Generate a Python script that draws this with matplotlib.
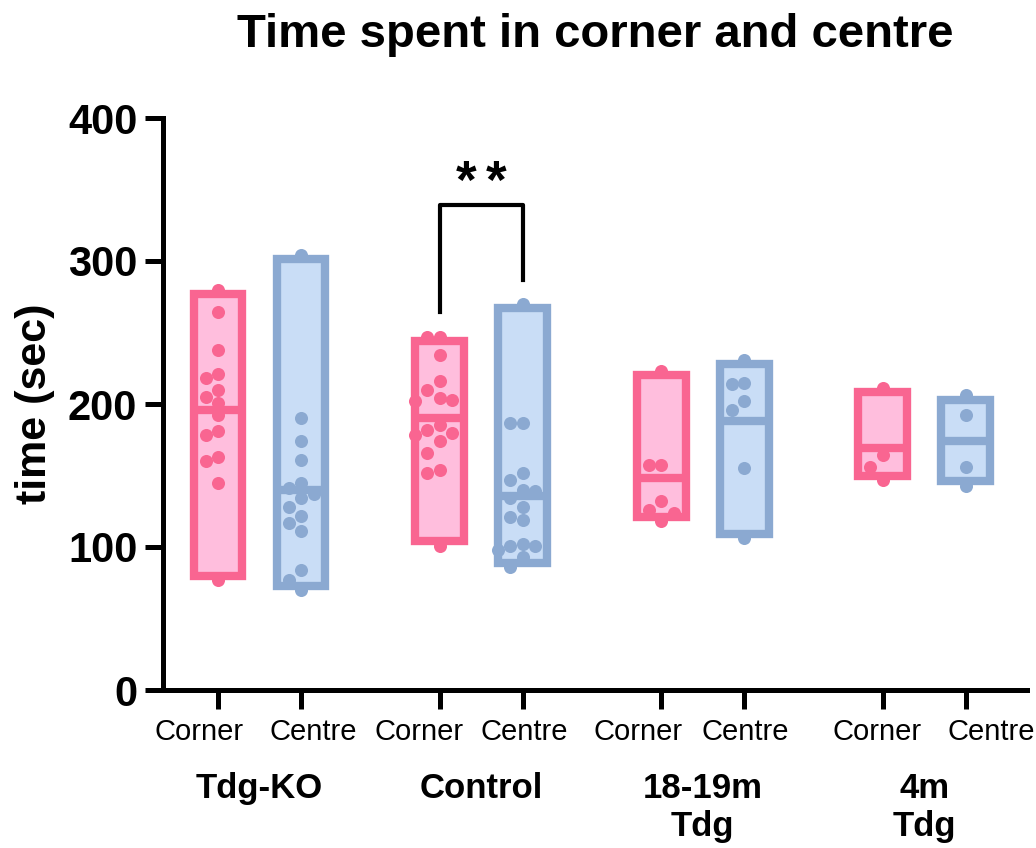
import numpy as np
import matplotlib
matplotlib.use("Agg")
import matplotlib.pyplot as plt
import matplotlib.transforms as mtransforms

plt.rcParams['font.family'] = ['Liberation Sans', 'DejaVu Sans']

# values (sec)
groups = ['Tdg-KO', 'Control', '18-19m\nTdg', '4m\nTdg']
conditions = ['Corner', 'Centre']

tdgko_corner = [280, 264, 238, 221, 218, 210, 205, 201, 192, 181, 178, 163, 160, 145, 77]
tdgko_centre = [304, 190, 174, 161, 145, 141, 137, 134, 128, 122, 117, 111, 84, 77, 70]
control_corner = [247, 247, 234, 216, 210, 204, 203, 202, 185, 182, 180, 178, 174, 166, 154, 152, 101]
control_centre = [270, 187, 187, 152, 147, 140, 139, 134, 128, 121, 119, 102, 101, 101, 98, 93, 86]
old_corner = [223, 157, 157, 132, 126, 124, 118]
old_centre = [231, 215, 214, 202, 196, 155, 106]
young_corner = [211, 164, 156, 147]
young_centre = [206, 192, 156, 143]

series = [tdgko_corner, tdgko_centre, control_corner, control_centre,
          old_corner, old_centre, young_corner, young_centre]

edge_cols = {'Corner': '#F96591', 'Centre': '#8BA9D1'}
fill_cols = {'Corner': '#FFBEDD', 'Centre': '#C9DDF6'}

group_gap = 2.67
positions = [g * group_gap + j for g in range(len(groups)) for j in range(2)]
# sideways nudge of the tick labels (pixels), the way the original spreads them
label_nudge = [-19, 12, -21, 2, -23, 1, -6, 25]

fig = plt.figure(figsize=(10.36, 8.48), dpi=100)
ax = fig.add_axes([163 / 1036, 1 - 690 / 848, (1027 - 163) / 1036, (690 - 118) / 848])
ax.set_xlim(-0.663, 9.747)
ax.set_ylim(0, 400)

# pixel scales, used for the swarm and for keeping the bar edges inside min..max
px_x = ax.bbox.width / (ax.get_xlim()[1] - ax.get_xlim()[0])
px_y = ax.bbox.height / 400.0
lw = 6
half = lw * 100 / 72 / 2
bar_w = 0.687 - 2 * half / px_x
dot = 13.0
step = 12.5


def swarm(vals):
    # greedy column placement so the dots do not overlap
    order = np.argsort(vals)[::-1]
    placed = []
    offs = np.zeros(len(vals))
    for i in order:
        for k in [0, -1, 1, -2, 2, -3, 3]:
            ok = True
            for (kk, vv) in placed:
                if np.hypot((k - kk) * step, (vals[i] - vv) * px_y) < dot - 0.5:
                    ok = False
                    break
            if ok:
                offs[i] = k * step / px_x
                placed.append((k, vals[i]))
                break
    return offs


for i, (x, vals) in enumerate(zip(positions, series)):
    cond = conditions[i % 2]
    vals = np.asarray(vals, dtype=float)
    lo, hi = vals.min(), vals.max()
    dy = half / px_y
    ax.bar(x, (hi - dy) - (lo + dy), bottom=lo + dy, width=bar_w,
           color=fill_cols[cond], edgecolor=edge_cols[cond], linewidth=lw, zorder=2)
    ax.hlines(vals.mean(), x - bar_w / 2, x + bar_w / 2, color=edge_cols[cond],
              linewidth=lw, capstyle='butt', zorder=3)
    ax.plot(x + swarm(vals), vals, 'o', color=edge_cols[cond], markersize=9.4,
            markeredgewidth=0, zorder=4, clip_on=False)

# significance bracket, Control corner vs centre
x1, x2 = positions[2], positions[3]
y1 = max(control_corner) + 17
y2 = max(control_centre) + 17
top = max(y1, y2) + 52
ax.plot([x1, x1, x2, x2], [y1, top, top, y2], color='black', linewidth=3, zorder=5)
xm = (x1 + x2) / 2
for dx in (-0.18, 0.18):
    ax.text(xm + dx, top + 15, '*', ha='center', va='center', fontsize=38,
            fontweight='bold', color='black')

# axes styling
for s in ['top', 'right']:
    ax.spines[s].set_visible(False)
for s in ['left', 'bottom']:
    ax.spines[s].set_linewidth(3.6)
ax.set_yticks([0, 100, 200, 300, 400])
ax.tick_params(axis='y', length=13, width=3.6, pad=5.5, labelsize=30)
for t in ax.get_yticklabels():
    t.set_fontweight('bold')
ax.set_xticks(positions)
ax.set_xticklabels(conditions * len(groups))
ax.tick_params(axis='x', length=14, width=3.6, pad=6, labelsize=21)
for t, n in zip(ax.get_xticklabels(), label_nudge):
    t.set_transform(t.get_transform() + mtransforms.ScaledTranslation(n / 100, 0, fig.dpi_scale_trans))

ax.set_ylabel('time (sec)', fontsize=31, fontweight='bold', labelpad=9)

trans = mtransforms.blended_transform_factory(ax.transData, fig.transFigure)
for g, name in enumerate(groups):
    xc = g * group_gap + 0.5
    ax.text(xc, 1 - 772 / 848, name, transform=trans, ha='center', va='top',
            fontsize=25, fontweight='bold', linespacing=1.2)

fig.text(595 / 1036, 1 - 47 / 848, 'Time spent in corner and centre',
         ha='center', va='baseline', fontsize=34, fontweight='bold')

fig.savefig('out.png', dpi=100)
